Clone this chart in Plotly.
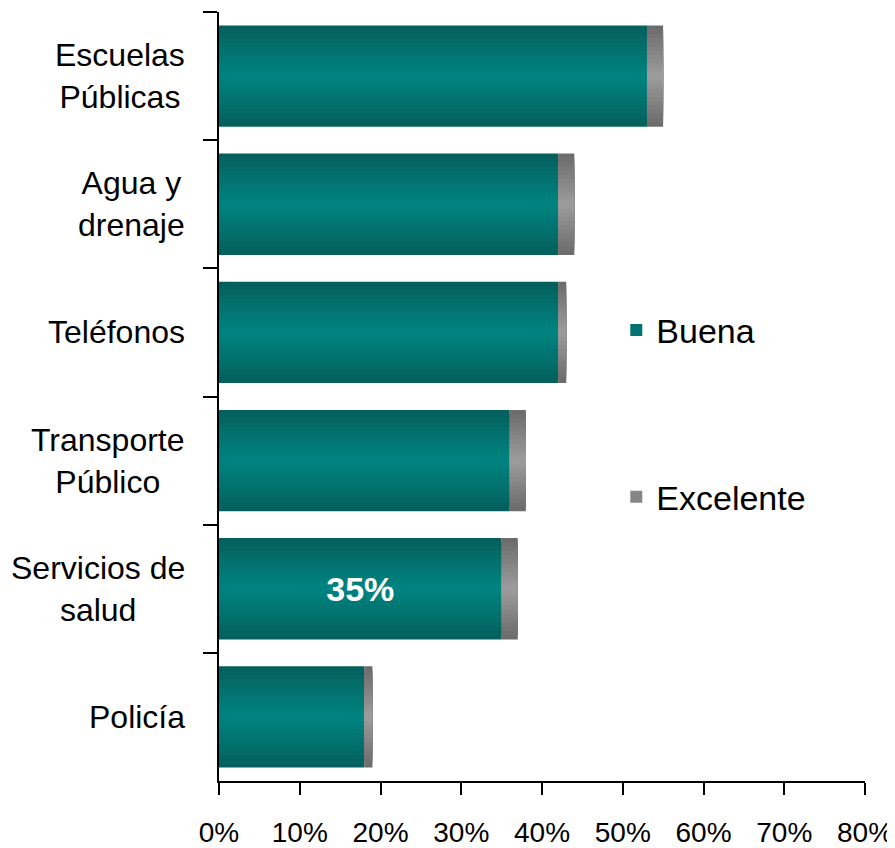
import plotly.graph_objects as go

categories = ["Escuelas<br>Públicas", "Agua y<br>drenaje", "Teléfonos",
              "Transporte<br>Público", "Servicios de<br>salud", "Policía"]
buena = [53, 42, 42, 36, 35, 18]
excelente = [2, 2, 1, 2, 2, 1]
buena_text = ["", "", "", "", "35%", ""]
x_ticks = [0, 10, 20, 30, 40, 50, 60, 70, 80]
x_ticktext = ["0%", "10%", "20%", "30%", "40%", "50%", "60%", "70%", "80%"]

FONT = "Liberation Sans, Arial, sans-serif"

def mix(c1, c2, t):
    a = [int(c1[i:i + 2], 16) for i in (1, 3, 5)]
    b = [int(c2[i:i + 2], 16) for i in (1, 3, 5)]
    return "rgb(%d,%d,%d)" % tuple(round(a[k] + (b[k] - a[k]) * t) for k in range(3))

N = 12
BAR_W = 0.79
fig = go.Figure()

for i in range(N):
    t = i / (N - 1)
    w = BAR_W * (1 - i / N)
    last = i == N - 1
    fig.add_trace(go.Bar(
        y=categories, x=buena, orientation="h", width=w,
        marker=dict(color=mix("#04605C", "#008380", t), line=dict(width=0)),
        name="Buena", legend="legend", showlegend=(i == N // 2),
        text=buena_text if last else None,
        textposition="inside" if last else "none",
        insidetextanchor="middle", constraintext="none",
        textfont=dict(family=FONT, size=34, color="white", weight="bold"),
        hoverinfo="skip",
    ))
for i in range(N):
    t = i / (N - 1)
    w = BAR_W * (1 - i / N)
    fig.add_trace(go.Bar(
        y=categories, x=excelente, base=buena, orientation="h", width=w,
        marker=dict(color=mix("#6C6C6C", "#9B9B9B", t), line=dict(width=0)),
        name="Excelente", legend="legend2", showlegend=(i == N // 2),
        hoverinfo="skip",
    ))

for c in categories:
    fig.add_annotation(
        x=-0.049, xref="paper", xanchor="right", y=c, yref="y",
        text=c, showarrow=False, align="center",
        font=dict(family=FONT, size=32, color="black"),
    )

fig.update_layout(
    width=887, height=840,
    margin=dict(l=211, r=30, t=4, b=67, autoexpand=False),
    paper_bgcolor="white", plot_bgcolor="white",
    barmode="overlay",
    font=dict(family=FONT, color="black"),
    legend=dict(x=0.615, y=0.586, xanchor="left", yanchor="middle",
                font=dict(family=FONT, size=34, color="black"),
                bgcolor="rgba(0,0,0,0)"),
    legend2=dict(x=0.615, y=0.369, xanchor="left", yanchor="middle",
                 font=dict(family=FONT, size=34, color="black"),
                 bgcolor="rgba(0,0,0,0)"),
    xaxis=dict(range=[0, 80], tickvals=x_ticks, ticktext=x_ticktext,
               automargin=False,
               showgrid=False, zeroline=False, showline=True,
               linecolor="black", linewidth=2,
               ticks="outside", ticklen=12, tickwidth=2, tickcolor="black",
               ticklabelstandoff=13,
               tickfont=dict(family=FONT, size=28, color="black")),
    yaxis=dict(autorange="reversed", showgrid=False, zeroline=False,
               automargin=False,
               showline=True, linecolor="black", linewidth=2,
               ticks="outside", tickson="boundaries", ticklen=14,
               tickwidth=2, tickcolor="black", showticklabels=False),
)

fig.write_html("out.html")
